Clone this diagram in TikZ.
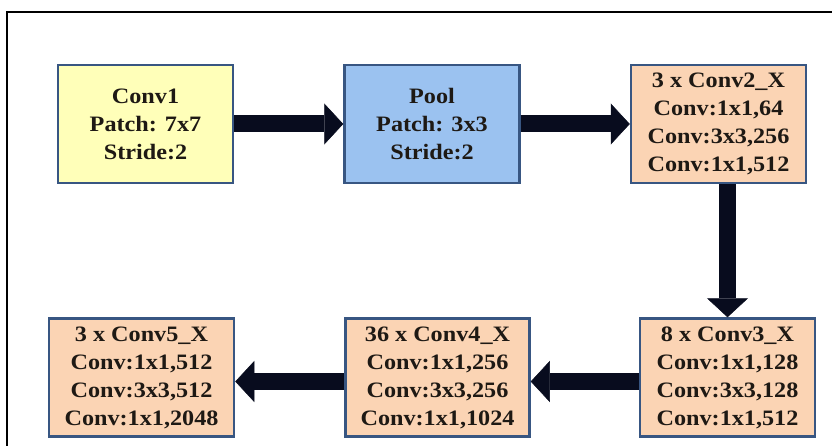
\documentclass[tikz,border=0pt]{standalone}
\usepackage{fontspec}
\setmainfont{Liberation Serif}[FakeStretch=1.1]
\usetikzlibrary{arrows.meta, positioning}
\definecolor{convyellow}{RGB}{255,255,185}
\definecolor{poolblue}{RGB}{155,194,240}
\definecolor{blockpeach}{RGB}{251,212,180}
\definecolor{edgeblue}{RGB}{56,86,130}
\definecolor{arrowdark}{RGB}{8,12,30}
\definecolor{labeltext}{RGB}{30,25,20}

\begin{document}
\begin{tikzpicture}[x=1pt, y=-1pt]
    \tikzstyle{block} = [rectangle, minimum width=175pt, minimum height=118pt, inner sep=0pt, align=center, draw=edgeblue, line width=2.5pt, text=labeltext, font=\bfseries\fontsize{22}{28}\selectfont]
    \tikzstyle{arrow} = [draw=arrowdark, line width=17pt, -{Triangle[width=41pt, length=19pt, line width=0.5pt]}]

    \useasboundingbox (0,0) rectangle (832,446);
    \draw[line width=1.5pt] (7,446) -- (7,12) -- (832,12);

    \node (conv1) [block, fill=convyellow] at (145.5,124) {Conv1\\Patch: 7x7\\Stride:2};
    \node (pool) [block, fill=poolblue, right=109pt of conv1] {Pool\\Patch: 3x3\\Stride:2};
    \node (conv2) [block, fill=blockpeach, right=109pt of pool] {3 x Conv2\_X\\Conv:1x1,64\\Conv:3x3,256\\Conv:1x1,512};
    \node (conv3) [block, fill=blockpeach, below=133pt of conv2, xshift=9pt] {8 x Conv3\_X\\Conv:1x1,128\\Conv:3x3,128\\Conv:1x1,512};
    \node (conv4) [block, fill=blockpeach, minimum width=184pt, left=108pt of conv3] {36 x Conv4\_X\\Conv:1x1,256\\Conv:3x3,256\\Conv:1x1,1024};
    \node (conv5) [block, fill=blockpeach, minimum width=185pt, left=109pt of conv4] {3 x Conv5\_X\\Conv:1x1,512\\Conv:3x3,512\\Conv:1x1,2048};

    \draw [arrow] (conv1) -- (pool);
    \draw [arrow] (pool) -- (conv2);
    \draw [arrow] (conv2.south -| conv3.north) -- (conv3.north);
    \draw [arrow] ([yshift=-4pt]conv3.west) -- ([yshift=-4pt]conv4.east);
    \draw [arrow] ([yshift=-4pt]conv4.west) -- ([yshift=-4pt]conv5.east);
\end{tikzpicture}
\end{document}
